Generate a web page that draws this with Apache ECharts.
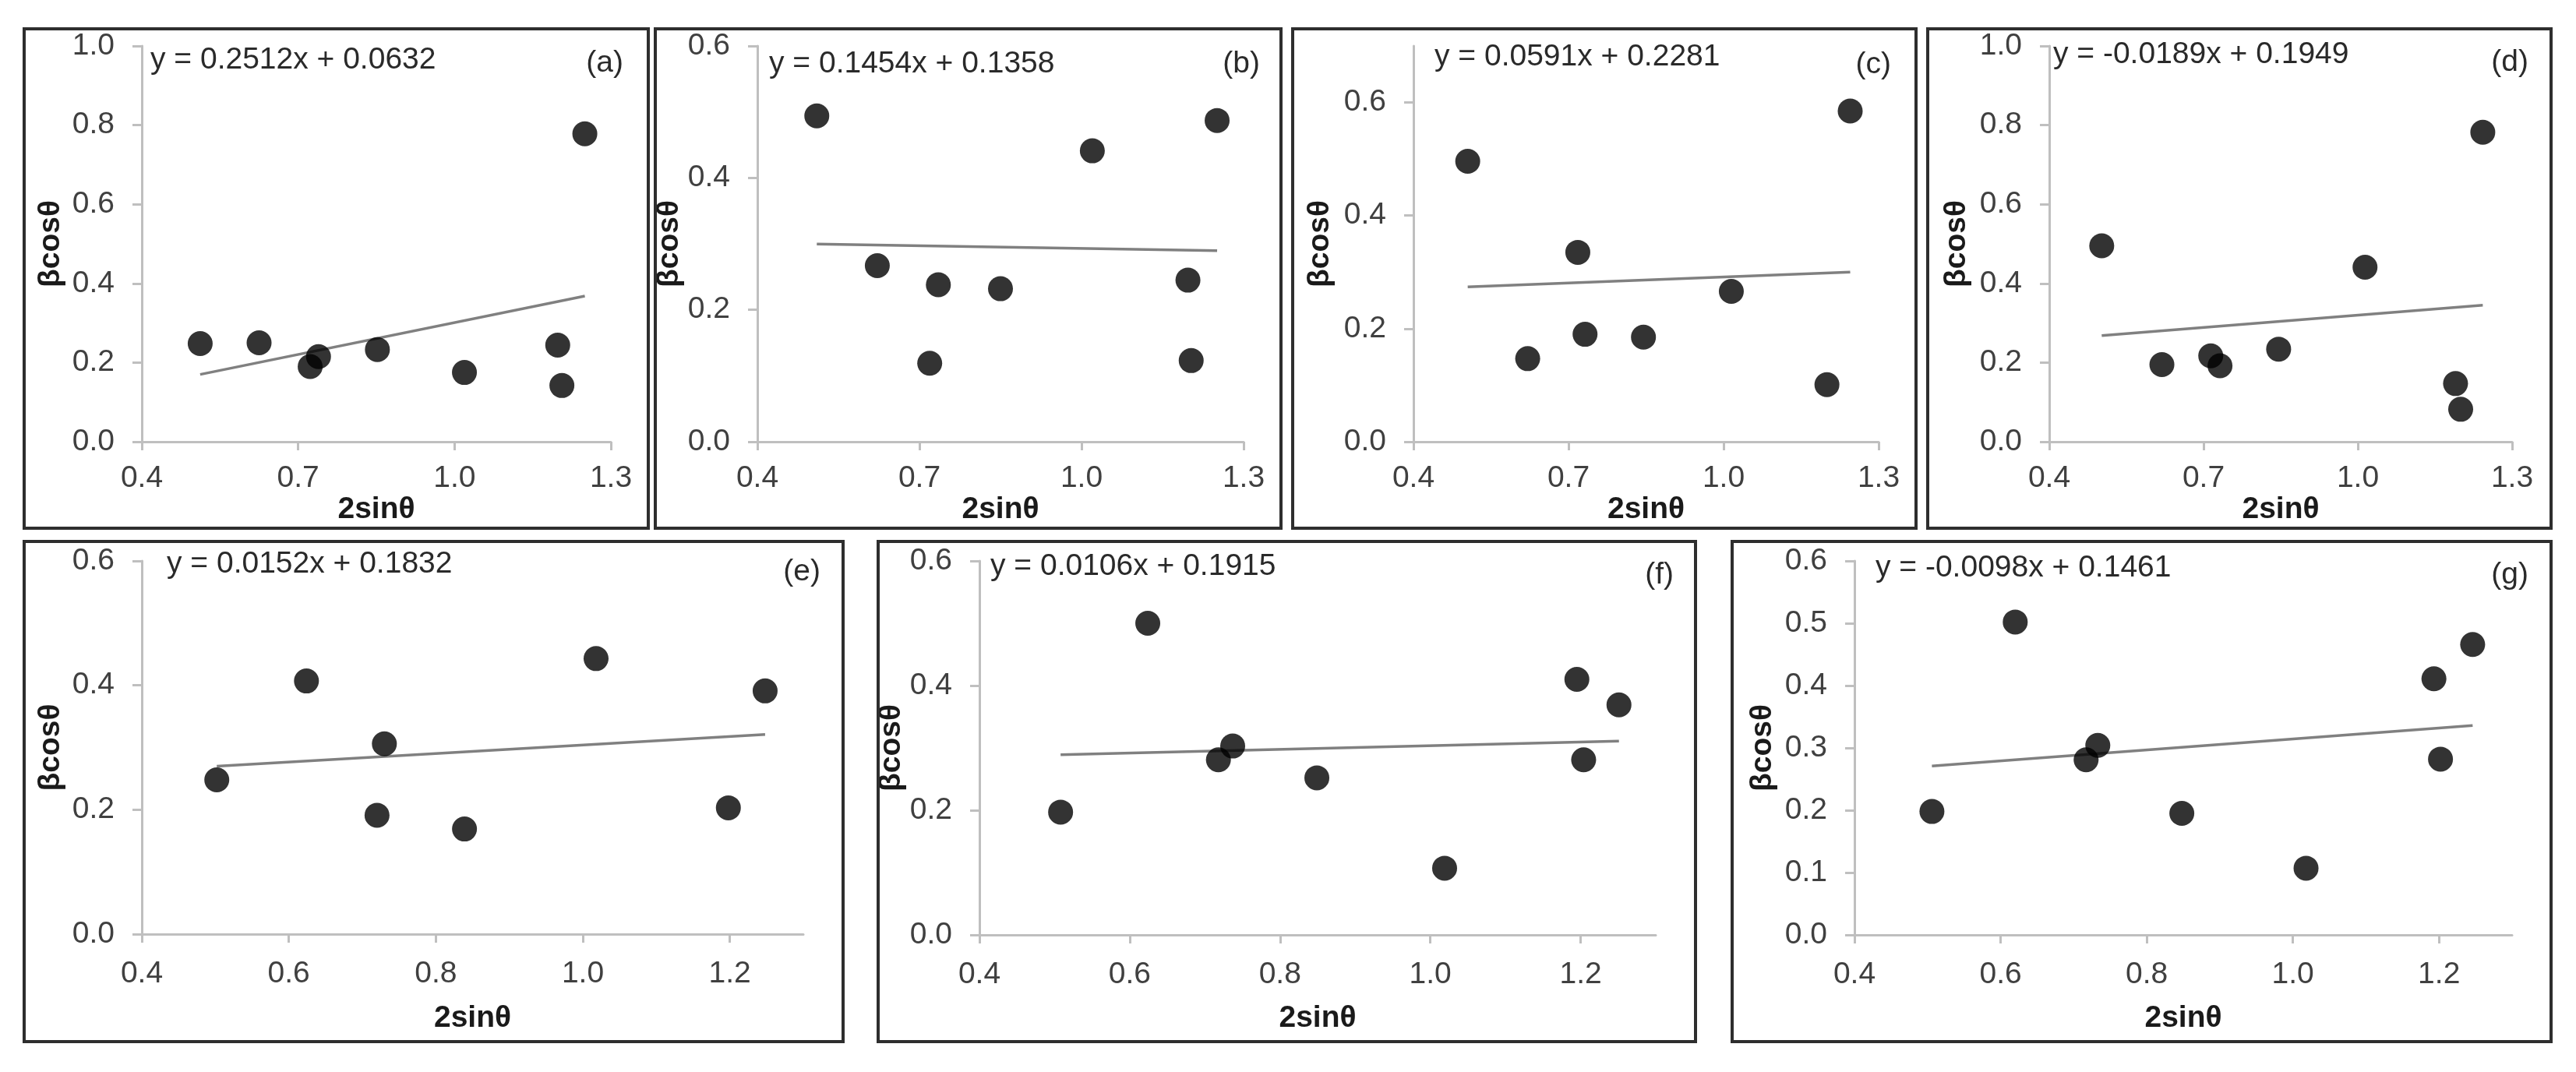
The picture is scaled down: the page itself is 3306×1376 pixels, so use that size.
<!DOCTYPE html>
<html><head><meta charset="utf-8">
<script src="https://cdn.jsdelivr.net/npm/echarts@6/dist/echarts.min.js"></script>
<style>html,body{margin:0;padding:0;background:#fff}#c{width:3306px;height:1376px}</style>
</head><body><div id="c"></div>
<script>
// ---------- DATA ----------
const panelTags = ['(a)', '(b)', '(c)', '(d)', '(e)', '(f)', '(g)'];
const equations = [
  'y = 0.2512x + 0.0632',
  'y = 0.1454x + 0.1358',
  'y = 0.0591x + 0.2281',
  'y = -0.0189x + 0.1949',
  'y = 0.0152x + 0.1832',
  'y = 0.0106x + 0.1915',
  'y = -0.0098x + 0.1461'
];
const xTitle = '2sinθ';
const yTitle = 'βcosθ';

const xA = [0.512, 0.625, 0.723, 0.739, 0.852, 1.019, 1.198, 1.206, 1.250];
const yA = [0.248, 0.250, 0.190, 0.215, 0.233, 0.175, 0.244, 0.142, 0.778];
const trendA = [0.170, 0.368];

const xB = [0.510, 0.622, 0.719, 0.735, 0.850, 1.020, 1.197, 1.203, 1.251];
const yB = [0.494, 0.267, 0.119, 0.238, 0.232, 0.441, 0.245, 0.123, 0.487];
const trendB = [0.2996, 0.2897];

const xC = [0.505, 0.621, 0.718, 0.732, 0.845, 1.015, 1.200, 1.245];
const yC = [0.496, 0.147, 0.335, 0.190, 0.185, 0.266, 0.101, 0.585];
const trendC = [0.274, 0.300];

const xD = [0.502, 0.619, 0.714, 0.732, 0.846, 1.014, 1.190, 1.200, 1.243];
const yD = [0.495, 0.195, 0.217, 0.192, 0.234, 0.441, 0.147, 0.082, 0.782];
const trendD = [0.268, 0.345];

const xE = [0.502, 0.624, 0.720, 0.730, 0.839, 1.018, 1.198, 1.248];
const yE = [0.248, 0.407, 0.191, 0.306, 0.169, 0.443, 0.203, 0.391];
const trendE = [0.270, 0.321];

const xF = [0.508, 0.624, 0.718, 0.737, 0.849, 1.019, 1.195, 1.204, 1.251];
const yF = [0.197, 0.500, 0.281, 0.303, 0.252, 0.107, 0.410, 0.281, 0.369];
const trendF = [0.289, 0.311];

const xG = [0.506, 0.620, 0.717, 0.733, 0.848, 1.018, 1.193, 1.202, 1.246];
const yG = [0.198, 0.502, 0.281, 0.304, 0.195, 0.107, 0.411, 0.282, 0.466];
const trendG = [0.271, 0.336];

const xTicksTop = [0.4, 0.7, 1.0, 1.3];
const xTicksBottom = [0.4, 0.6, 0.8, 1.0, 1.2];
const yTicks10 = [0, 0.2, 0.4, 0.6, 0.8, 1.0];
const yTicks06 = [0, 0.2, 0.4, 0.6];
const yTicks06fine = [0, 0.1, 0.2, 0.3, 0.4, 0.5, 0.6];
const xMin = 0.4, xMax = 1.3;
const yMaxes = [1.0, 0.6, 0.7, 1.0, 0.6, 0.6, 0.6];

// ---------- LAYOUT / STYLE ----------
const panels = [
  {x: xA, y: yA, t: trendA, xt: xTicksTop, xi: 0.3, yt: yTicks10, yi: 0.2},
  {x: xB, y: yB, t: trendB, xt: xTicksTop, xi: 0.3, yt: yTicks06, yi: 0.2},
  {x: xC, y: yC, t: trendC, xt: xTicksTop, xi: 0.3, yt: yTicks06, yi: 0.2},
  {x: xD, y: yD, t: trendD, xt: xTicksTop, xi: 0.3, yt: yTicks10, yi: 0.2},
  {x: xE, y: yE, t: trendE, xt: xTicksBottom, xi: 0.2, yt: yTicks06, yi: 0.2},
  {x: xF, y: yF, t: trendF, xt: xTicksBottom, xi: 0.2, yt: yTicks06, yi: 0.2},
  {x: xG, y: yG, t: trendG, xt: xTicksBottom, xi: 0.2, yt: yTicks06fine, yi: 0.1}
];
const layout = [
  {frame: [31, 37, 801, 641],   grid: [182, 59, 602, 508],  yGap: 97, xGap: 68, xMargin: 28, eq: [193, 77],  tag: [800, 81]},
  {frame: [841, 37, 803, 641],  grid: [972, 59, 624, 508],  yGap: 80, xGap: 68, xMargin: 28, eq: [987, 82],  tag: [1617, 82]},
  {frame: [1659, 37, 800, 641], grid: [1814, 59, 597, 508], yGap: 100, xGap: 68, xMargin: 28, eq: [1841, 73], tag: [2427, 83]},
  {frame: [2474, 37, 800, 641], grid: [2630, 59, 594, 508], yGap: 99, xGap: 68, xMargin: 28, eq: [2635, 70], tag: [3245, 80]},
  {frame: [31, 695, 1051, 642], grid: [182, 720, 849, 479], yGap: 97, xGap: 89, xMargin: 32, eq: [214, 724], tag: [1053, 734]},
  {frame: [1127, 695, 1049, 642], grid: [1257, 720, 868, 480], yGap: 81, xGap: 88, xMargin: 32, eq: [1271, 727], tag: [2148, 738]},
  {frame: [2223, 695, 1051, 642], grid: [2380, 720, 844, 480], yGap: 98, xGap: 88, xMargin: 32, eq: [2407, 729], tag: [3245, 738]}
];
const FONT = "'Liberation Sans', Arial, sans-serif";
const FS = 39;
const labelColor = '#404040';
const axisLineColor = '#bfbfbf';

const option = {
  animation: false,
  backgroundColor: '#ffffff',
  grid: [], xAxis: [], yAxis: [], series: [], graphic: []
};

panels.forEach((p, i) => {
  const L = layout[i];
  option.grid.push({left: L.grid[0], top: L.grid[1], width: L.grid[2], height: L.grid[3], containLabel: false});
  option.xAxis.push({
    type: 'value', gridIndex: i, min: xMin, max: xMax, interval: p.xi,
    name: xTitle, nameLocation: 'middle', nameGap: L.xGap,
    nameTextStyle: {fontFamily: FONT, fontSize: FS, fontWeight: 'bold', color: '#1a1a1a'},
    axisLine: {show: true, onZero: false, lineStyle: {color: axisLineColor, width: 3}},
    axisTick: {show: true, length: 11, customValues: p.xt, lineStyle: {color: axisLineColor, width: 3}},
    axisLabel: {customValues: p.xt, margin: L.xMargin, fontFamily: FONT, fontSize: FS, color: labelColor,
      formatter: v => Number(v).toFixed(1)},
    splitLine: {show: false}
  });
  option.yAxis.push({
    type: 'value', gridIndex: i, min: 0, max: yMaxes[i], interval: p.yi,
    name: yTitle, nameLocation: 'middle', nameGap: L.yGap,
    nameTextStyle: {fontFamily: FONT, fontSize: FS, fontWeight: 'bold', color: '#1a1a1a'},
    axisLine: {show: true, onZero: false, lineStyle: {color: axisLineColor, width: 3}},
    axisTick: {show: true, length: 12, customValues: p.yt, lineStyle: {color: axisLineColor, width: 3}},
    axisLabel: {customValues: p.yt, margin: 35, fontFamily: FONT, fontSize: FS, color: labelColor,
      formatter: v => Number(v).toFixed(1)},
    splitLine: {show: false}
  });
  const xs = p.x;
  const x0 = Math.min.apply(null, xs), x1 = Math.max.apply(null, xs);
  option.series.push({
    type: 'line', xAxisIndex: i, yAxisIndex: i, data: [[x0, p.t[0]], [x1, p.t[1]]],
    symbol: 'none', lineStyle: {color: '#808080', width: 3.5}, z: 2, silent: true
  });
  option.series.push({
    type: 'scatter', xAxisIndex: i, yAxisIndex: i,
    data: xs.map((v, k) => [v, p.y[k]]),
    symbol: 'circle', symbolSize: 32, itemStyle: {color: '#000000'}, z: 3, silent: true
  });
  option.graphic.push({
    type: 'rect', shape: {x: L.frame[0], y: L.frame[1], width: L.frame[2], height: L.frame[3]},
    style: {fill: 'none', stroke: '#2e2e2e', lineWidth: 4}, silent: true, z: 10
  });
  option.graphic.push({
    type: 'text', x: L.eq[0], y: L.eq[1],
    style: {text: equations[i], fontFamily: FONT, fontSize: FS, fill: '#2a2a2a', align: 'left', verticalAlign: 'middle'},
    silent: true, z: 10
  });
  option.graphic.push({
    type: 'text', x: L.tag[0], y: L.tag[1],
    style: {text: panelTags[i], fontFamily: FONT, fontSize: FS, fill: '#2a2a2a', align: 'right', verticalAlign: 'middle'},
    silent: true, z: 10
  });
});

const chart = echarts.init(document.getElementById('c'), null, {renderer: 'canvas'});
chart.setOption(option);
</script>
</body></html>
